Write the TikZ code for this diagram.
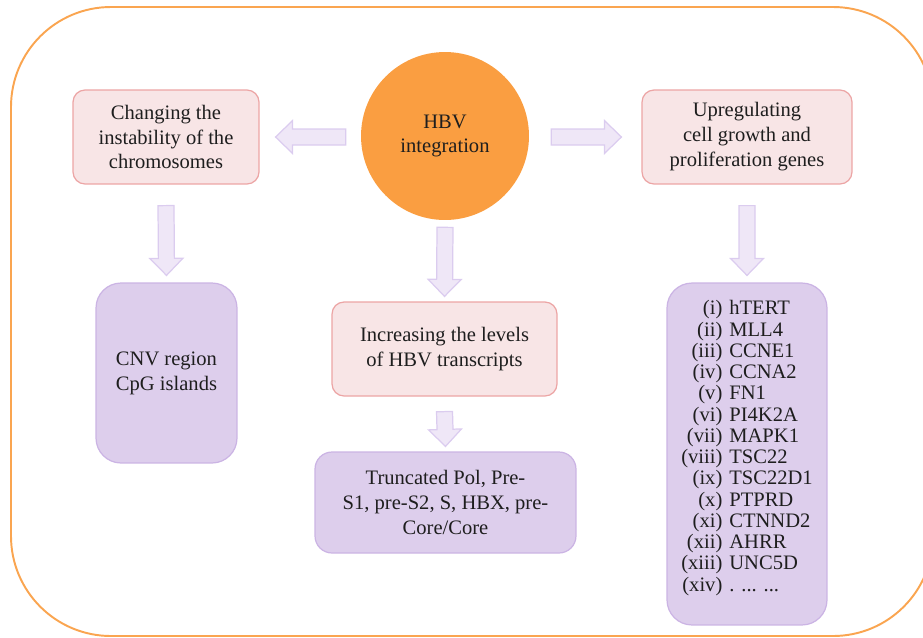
\documentclass[tikz,border=0pt]{standalone}
\usepackage{fontspec}
\setmainfont{Liberation Serif}
\usetikzlibrary{calc, positioning}

\definecolor{hbvorange}{RGB}{250,158,65}
\definecolor{frameorange}{RGB}{250,165,80}
\definecolor{pinkfill}{RGB}{248,229,230}
\definecolor{pinkline}{RGB}{236,165,165}
\definecolor{lilacfill}{RGB}{221,206,236}
\definecolor{lilacline}{RGB}{203,180,228}
\definecolor{arrowfill}{RGB}{239,231,247}
\definecolor{arrowline}{RGB}{219,204,239}
\definecolor{textdark}{RGB}{30,30,30}

\tikzset{
  effectbox/.style={draw=pinkline, fill=pinkfill, line width=0.7pt, rounded corners=0.24cm, align=center, inner sep=0pt},
  genebox/.style={draw=lilacline, fill=lilacfill, line width=0.7pt, inner sep=0pt},
  fatarrow/.style={draw=arrowline, fill=arrowfill, line width=0.7pt, line join=miter}
}

% hollow block arrow from tail #1 to tip #2
\newcommand{\blockarrow}[2]{%
  \coordinate (ab) at ($(#2)!0.34cm!(#1)$);
  \draw[fatarrow] ($(#1)!0.16cm!90:(#2)$) -- ($(ab)!0.16cm!-90:(#1)$)
    -- ($(ab)!0.33cm!-90:(#1)$) -- (#2) -- ($(ab)!0.33cm!90:(#1)$)
    -- ($(ab)!0.16cm!90:(#1)$) -- ($(#1)!0.16cm!-90:(#2)$) -- cycle;}

\begin{document}
\begin{tikzpicture}[x=0.02cm, y=-0.02cm, font=\fontsize{11.7}{14.2}\selectfont, text=textdark]
  \useasboundingbox (0,0) rectangle (923,637);
  \clip (0,0) rectangle (923,637);

  % outer frame (runs off the right edge)
  \draw[frameorange, line width=1.1pt, rounded corners=2cm] (11,7) rectangle (933,636);

  % centre
  \node[circle, fill=hbvorange, minimum size=3.36cm, align=center, inner sep=0pt] (hbv) at (445,136) {HBV\\integration};

  % effects
  \node[effectbox, minimum width=3.72cm, minimum height=1.88cm] (chrom) at (166,137) {Changing the\\instability of the\\chromosomes};
  \node[effectbox, minimum width=4.2cm, minimum height=1.88cm] (upreg) at (747,137) {Upregulating\\cell growth and\\proliferation genes};
  \node[effectbox, minimum width=4.5cm, minimum height=1.88cm] (trans) at (444.5,349) {Increasing the levels\\of HBV transcripts};

  % targets
  \node[genebox, align=center, rounded corners=0.5cm, minimum width=2.82cm, minimum height=3.6cm] (cnv) at (166.5,373) {CNV region\\CpG islands};
  \node[genebox, align=center, rounded corners=0.34cm, minimum width=5.22cm, minimum height=2.02cm] (trunc) at (445.5,502.5) {Truncated Pol, Pre-\\S1, pre-S2, S, HBX, pre-\\Core/Core};
  \node[genebox, rounded corners=0.5cm, minimum width=3.2cm, minimum height=6.84cm] (genes) at (747,454) {%
    \fontsize{11.7}{12.1}\selectfont
    \begin{tabular}{@{}r@{\hspace{4pt}}l@{}}
      (i) & hTERT\\
      (ii) & MLL4\\
      (iii) & CCNE1\\
      (iv) & CCNA2\\
      (v) & FN1\\
      (vi) & PI4K2A\\
      (vii) & MAPK1\\
      (viii) & TSC22\\
      (ix) & TSC22D1\\
      (x) & PTPRD\\
      (xi) & CTNND2\\
      (xii) & AHRR\\
      (xiii) & UNC5D\\
      (xiv) & . ... ...\\[6pt]
    \end{tabular}};

  % arrow ends
  \coordinate (lt) at ($(hbv.west)+(-15,1)$);   \coordinate (lh) at ($(chrom.east)+(16,0)$);
  \coordinate (rt) at ($(hbv.east)+(22,1)$);    \coordinate (rh) at ($(upreg.west)+(-20,0)$);
  \coordinate (mt) at ($(hbv.south)+(0,7)$);    \coordinate (mh) at ($(trans.north)+(0,-5)$);
  \coordinate (bt) at ($(trans.south)+(0,15)$); \coordinate (bh) at ($(trunc.north)+(0,-5)$);
  \coordinate (ct) at ($(chrom.south)+(0,21)$); \coordinate (ch) at ($(cnv.north)+(0,-7)$);
  \coordinate (gt) at ($(upreg.south)+(0,21)$); \coordinate (gh) at ($(genes.north)+(0,-7)$);

  \foreach \s/\t in {lt/lh, rt/rh, mt/mh, bt/bh, ct/ch, gt/gh} {
    \blockarrow{\s}{\t}
  }
\end{tikzpicture}
\end{document}
